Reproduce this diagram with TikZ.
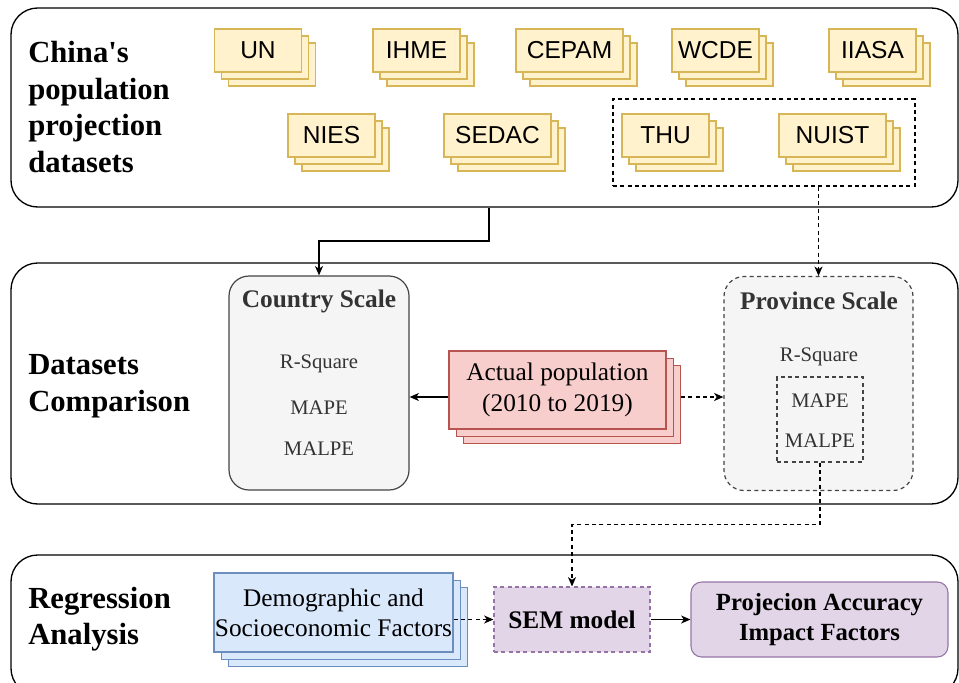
\documentclass[tikz,border=0pt]{standalone}
\usepackage{fontspec}
\setmainfont{Liberation Serif}
\newfontfamily\arialfont{Liberation Sans}
\usepackage{xcolor}
\usetikzlibrary{arrows.meta,positioning,calc,shadows}

\definecolor{ylwfill}{HTML}{FFF2CC}
\definecolor{ylwline}{HTML}{D6B656}
\definecolor{redfill}{HTML}{F8CECC}
\definecolor{redline}{HTML}{B85450}
\definecolor{bluefill}{HTML}{DAE8FC}
\definecolor{blueline}{HTML}{6C8EBF}
\definecolor{purfill}{HTML}{E1D5E7}
\definecolor{purline}{HTML}{9673A6}
\definecolor{grayfill}{HTML}{F5F5F5}
\definecolor{grayline}{HTML}{444444}
\definecolor{graytext}{HTML}{333333}

\begin{document}
\begin{tikzpicture}[x=0.75pt, y=-0.75pt,
    panel/.style={draw, line width=1pt, rounded corners=20pt,
                  minimum width=710.25pt, inner sep=0pt},
    title/.style={anchor=west, align=left, inner sep=0pt,
                  font=\bfseries\fontsize{23}{27.5}\selectfont},
    ds/.style={draw=ylwline, fill=ylwfill, line width=0.8pt, inner sep=0pt,
               minimum width=65.25pt, minimum height=32.25pt,
               font=\arialfont\fontsize{18.4}{22}\selectfont,
               double copy shadow={shadow xshift=5.25pt, shadow yshift=-5.25pt,
                                   draw=ylwline, fill=ylwfill, line width=0.8pt}},
    wide/.style={ds, minimum width=80.25pt},
    scalebox/.style={draw=grayline, fill=grayfill, line width=0.9pt,
                     rounded corners=15pt, minimum width=#1, minimum height=160.5pt},
    scalehead/.style={font=\bfseries\fontsize{19}{22}\selectfont, text=graytext},
    metric/.style={font=\fontsize{15.5}{18}\selectfont, text=graytext, inner sep=1pt},
    dsh/.style={dash pattern=on 3pt off 2.5pt},
    arr/.style={-{Stealth[length=7pt, width=6pt, inset=2pt]}, line width=1pt},
    darr/.style={arr, dsh}]

  \useasboundingbox (0,0) rectangle (959,682);

  % panels
  \node[panel, minimum height=149.25pt] (top) at (484.5,107.5) {};
  \node[panel, minimum height=180.75pt] (mid) at (484.5,383.5) {};
  \node[panel, minimum height=105pt] (bot) at (484.5,625) {};

  \node[title] (t1) at (28,107) {China\textquotesingle s\\population\\projection\\datasets};
  \node[title] (t2) at (28,386) {Datasets\\Comparison};
  \node[title] (t3) at (28,619) {Regression\\Analysis};

  % projection datasets
  \node[draw, dsh, line width=0.8pt, minimum width=226.5pt, minimum height=65.25pt]
       (grp) at (764,142.5) {};
  \node[ds] (un) at (258,50.5) {UN};
  \node[ds] (ihme) at (416.5,50.5) {IHME};
  \node[wide] (cepam) at (569.5,50.5) {CEPAM};
  \node[ds] (wcde) at (715.5,50.5) {WCDE};
  \node[ds] (iiasa) at (872.5,50.5) {IIASA};
  \node[ds] (nies) at (331.5,135.5) {NIES};
  \node[wide] (sedac) at (497.5,135.5) {SEDAC};
  \node[ds] (thu) at (665.5,135.5) {THU};
  \node[wide] (nuist) at (832.5,135.5) {NUIST};

  % comparison
  \node[scalebox=135pt] (country) at (319,383) {};
  \node[scalehead] (chead) at (319,301) {Country Scale};
  \node[metric] (crsq) at (319,364) {R-Square};
  \node[metric] (cmape) at (319,408) {MAPE};
  \node[metric] (cmalpe) at (319,449) {MALPE};

  \node[scalebox=141.75pt, dsh] (prov) at (818.5,383.5) {};
  \node[scalehead] (phead) at (819,301) {Province Scale};
  \node[metric] (prsq) at (819,357) {R-Square};
  \node[draw=grayline, dsh, line width=0.8pt, minimum width=64.5pt, minimum height=63.75pt]
       (inner) at (820,419.5) {};
  \node[metric] (pmape) at (820,401) {MAPE};
  \node[metric] (pmalpe) at (820,441) {MALPE};

  \node[draw=redline, fill=redfill, line width=0.8pt, align=center,
        minimum width=162.75pt, minimum height=58.5pt, inner sep=0pt,
        font=\fontsize{19}{23.25}\selectfont,
        double copy shadow={shadow xshift=5.4pt, shadow yshift=-5.4pt,
                            draw=redline, fill=redfill, line width=0.8pt}]
       (actual) at (557.5,390) {Actual population\\(2010 to 2019)};

  % regression
  \node[draw=blueline, fill=bluefill, line width=0.8pt, align=center,
        minimum width=179.25pt, minimum height=59.25pt, inner sep=0pt,
        font=\fontsize{19}{22.5}\selectfont,
        double copy shadow={shadow xshift=5.4pt, shadow yshift=-5.4pt,
                            draw=blueline, fill=bluefill, line width=0.8pt}]
       (demo) at (333.5,612.5) {Demographic and\\Socioeconomic Factors};
  \node[draw=purline, fill=purfill, dsh, line width=0.8pt,
        minimum width=117pt, minimum height=48.75pt,
        font=\bfseries\fontsize{19}{22}\selectfont] (sem) at (572,619.5) {SEM model};
  \node[draw=purline, fill=purfill, line width=0.8pt, rounded corners=8pt, align=center,
        minimum width=192.75pt, minimum height=56.25pt,
        font=\bfseries\fontsize{18.5}{22.5}\selectfont]
       (proj) at (819.5,619.5) {Projecion Accuracy\\Impact Factors};

  % connectors
  \coordinate (bend1) at (489,241);
  \draw[arr] (top.south -| bend1) -- (bend1) -| (country.north);
  \draw[darr] (grp.south -| prov.north) -- (prov.north);
  \draw[arr] ([yshift=-5.25pt]actual.west) -- ([yshift=-5.25pt]actual.west -| country.east);
  \draw[darr] ([xshift=10.8pt, yshift=-5.25pt]actual.east)
              -- ([yshift=-5.25pt]actual.east -| prov.west);
  \draw[darr] (inner.south) -- ++(0,62) -| (sem.north);
  \draw[darr] (demo.east |- sem.west) -- (sem.west);
  \draw[arr] (sem.east) -- (proj.west);
\end{tikzpicture}
\end{document}
